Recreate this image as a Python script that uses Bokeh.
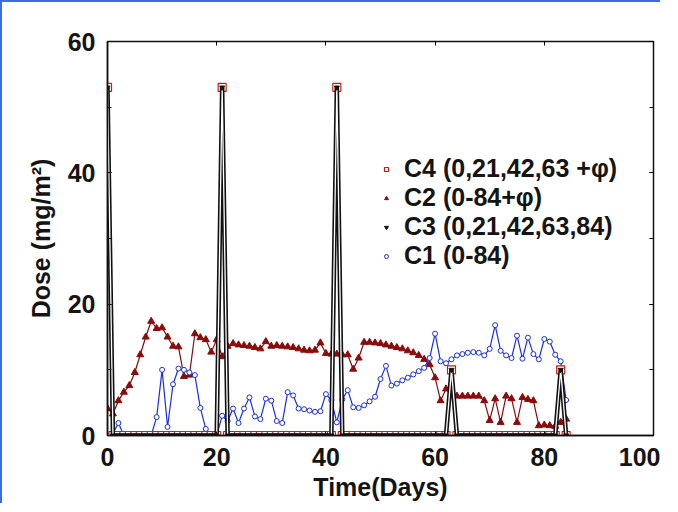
import numpy as np
from bokeh.plotting import figure
from bokeh.models import (Range1d, LinearAxis, SingleIntervalTicker, Legend, LegendItem,
                          CustomJSTickFormatter, ColumnDataSource)
from bokeh.embed import file_html
from bokeh.resources import INLINE

# ---------------- data ----------------
days = list(range(85))

c1_dose = [0, 0.3, 1.9, 0, 0, 0, 0, 0, 0, 2.8,
           10.0, 1.3, 7.8, 10.2, 10.0, 9.6, 9.2, 4.2, 1.0, 0.1,
           0, 3.0, 2.2, 4.1, 1.9, 4.1, 5.8, 2.9, 2.5, 5.6,
           5.3, 2.2, 1.9, 6.6, 6.1, 4.1, 4.0, 3.8, 3.6, 3.7,
           6.3, 5.4, 2.0, 5.5, 6.9, 4.3, 4.2, 4.6, 5.2, 5.9,
           8.6, 10.6, 7.6, 7.9, 8.4, 8.8, 9.3, 9.8, 10.3, 11.8,
           15.5, 11.3, 11.0, 11.6, 12.2, 12.4, 12.6, 12.7, 12.6, 12.2,
           13.2, 16.8, 12.9, 12.2, 11.8, 15.2, 11.7, 14.9, 12.4, 11.6,
           14.7, 14.3, 12.3, 11.3, 5.4]

c2_dose = [4.1, 3.3, 5.3, 6.6, 7.6, 9.6, 12.3, 15.0, 17.4, 16.3,
           16.4, 15.0, 13.6, 13.5, 9.0, 9.2, 15.5, 14.9, 14.6, 12.7,
           14.6, 12.0, 13.6, 14.0, 13.8, 13.7, 13.6, 13.4, 13.2, 14.3,
           13.6, 13.7, 13.6, 13.5, 13.4, 13.2, 13.0, 12.9, 13.0, 14.1,
           12.5, 12.4, 12.4, 12.3, 12.3, 10.1, 11.8, 14.2, 14.2, 14.1,
           14.0, 13.8, 13.6, 13.4, 13.2, 12.9, 12.6, 12.2, 11.6, 10.8,
           8.8, 5.3, 7.1, 6.1, 6.0, 6.0, 6.0, 6.0, 6.0, 5.3,
           2.3, 5.6, 2.0, 6.0, 5.6, 2.0, 5.8, 5.5, 5.3, 1.5,
           1.6, 1.5, 1.4, 2.0, 2.5]

c3_peak_days = [0, 21, 42, 63, 83]
c3_peak_dose = [53, 53, 53, 10, 10]
c4_peak_days = [0, 21, 42, 63, 83]
c4_peak_dose = [53, 53, 53, 10, 10]

labels = ["C4 (0,21,42,63 +φ)", "C2 (0-84+φ)", "C3 (0,21,42,63,84)", "C1 (0-84)"]

x_ticks_interval = 20
y_ticks_interval = 20


def pulses(peak_days, peak_dose):
    vals = np.zeros(len(days))
    for d, v in zip(peak_days, peak_dose):
        vals[d] = v
    return vals


c3_dose = pulses(c3_peak_days, c3_peak_dose)
c4_dose = pulses(c4_peak_days, c4_peak_dose)

# inner (hollow) stroke only on the pulse segments
on_pulse = c3_dose > 0
near = on_pulse | np.roll(on_pulse, 1) | np.roll(on_pulse, -1)
c3_inner = np.where(near, c3_dose, np.nan)

src = ColumnDataSource(dict(t=np.array(days, dtype=float), c1=np.array(c1_dose),
                            c2=np.array(c2_dose), c3=c3_dose, c3i=c3_inner, c4=c4_dose))

# ---------------- figure ----------------
FONT = "Liberation Sans"
p = figure(frame_width=546, frame_height=394, output_backend="svg", toolbar_location=None,
           x_range=Range1d(0, 100), y_range=Range1d(0, 60),
           min_border_left=105, min_border_right=7, min_border_top=39, min_border_bottom=62,
           background_fill_color="white", border_fill_color="white")
p.styles = {"border-left": "2px solid #3a6ee0", "border-top": "2px solid #3a6ee0"}
p.grid.visible = False
p.outline_line_color = "#111111"
p.outline_line_width = 1.5

xa = p.xaxis[0]
ya = p.yaxis[0]
xa.ticker = SingleIntervalTicker(interval=x_ticks_interval, num_minor_ticks=0)
ya.ticker = SingleIntervalTicker(interval=y_ticks_interval, num_minor_ticks=2)
for ax in (xa, ya):
    ax.major_tick_in = 4
    ax.major_tick_out = 0
    ax.minor_tick_in = 4
    ax.minor_tick_out = 0
    ax.axis_line_color = "#111111"
    ax.axis_line_width = 1.5
    ax.major_tick_line_color = "#111111"
    ax.minor_tick_line_color = "#111111"
    ax.major_label_text_font = FONT
    ax.major_label_text_font_style = "bold"
    ax.major_label_text_font_size = "25px"
    ax.major_label_text_color = "#141414"
    ax.axis_label_text_font = FONT
    ax.axis_label_text_font_style = "bold"
    ax.axis_label_text_font_size = "25px"
    ax.axis_label_text_color = "#141414"
xa.axis_label = "Time(Days)"
ya.axis_label = "Dose (mg/m²)"
xa.major_label_standoff = 12
ya.major_label_standoff = 12
xa.axis_label_standoff = 4
ya.axis_label_standoff = 10

blank = CustomJSTickFormatter(code="return ''")
top = LinearAxis(ticker=SingleIntervalTicker(interval=x_ticks_interval, num_minor_ticks=0),
                 formatter=blank, major_label_text_font_size="1px")
right = LinearAxis(ticker=SingleIntervalTicker(interval=y_ticks_interval, num_minor_ticks=2),
                   formatter=blank, major_label_text_font_size="1px")
for ax in (top, right):
    ax.major_tick_in = 4
    ax.major_tick_out = 0
    ax.minor_tick_in = 4
    ax.minor_tick_out = 0
    ax.axis_line_color = None
    ax.major_label_standoff = 0
p.add_layout(top, "above")
p.add_layout(right, "right")

# C2 (dark red triangles)
p.line("t", "c2", source=src, line_color="#8b0a0a", line_width=1.2)
r_c2 = p.scatter("t", "c2", source=src, marker="triangle", size=7,
                 fill_color="#8b0a0a", line_color="#8b0a0a")
# C1 (blue hollow circles)
p.line("t", "c1", source=src, line_color="#1a2fe0", line_width=1.2)
r_c1 = p.scatter("t", "c1", source=src, marker="circle", size=5,
                 fill_color="white", line_color="#1a2fe0", line_width=1)
# C4 (red squares) beneath the C3 pulses
r_c4 = p.scatter("t", "c4", source=src, marker="square", size=8,
                 fill_color="white", line_color="#d01818", line_width=1.2)
# C3 pulse outline (black, hollow look on the pulses)
p.line("t", "c3", source=src, line_color="#111111", line_width=4.5)
p.line("t", "c3i", source=src, line_color="white", line_width=1.3)
# C3 (black inverted triangles)
r_c3 = p.scatter("t", "c3", source=src, marker="inverted_triangle", size=5,
                 fill_color="#111111", line_color="#111111", line_width=1)

legend = Legend(items=[LegendItem(label=labels[0], renderers=[r_c4]),
                       LegendItem(label=labels[1], renderers=[r_c2]),
                       LegendItem(label=labels[2], renderers=[r_c3]),
                       LegendItem(label=labels[3], renderers=[r_c1])],
                location=(274, 165), border_line_color=None, background_fill_alpha=0,
                padding=0, margin=0, spacing=0, glyph_width=10, glyph_height=28,
                label_standoff=13, label_text_font=FONT, label_text_font_style="bold",
                label_text_font_size="25px", label_text_color="#141414",
                label_text_baseline="middle")
p.add_layout(legend, "center")

open("out.html", "w").write(file_html(p, INLINE))
